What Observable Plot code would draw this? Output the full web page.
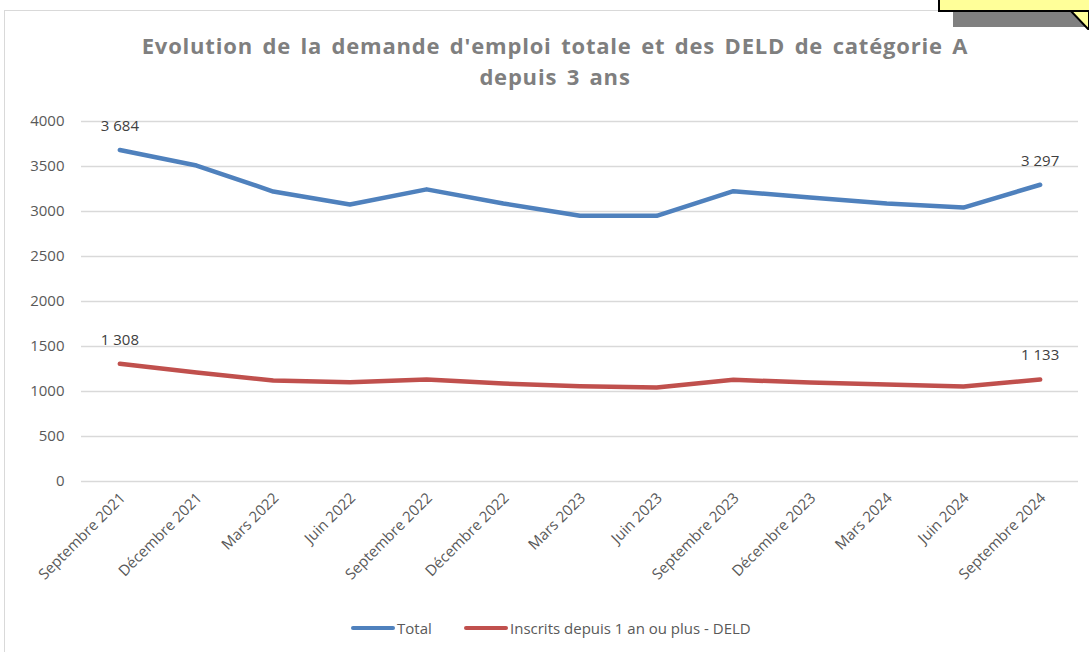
<!DOCTYPE html>
<html>
<head>
<meta charset="utf-8">
<script src="https://cdn.jsdelivr.net/npm/d3@7"></script>
<script src="https://cdn.jsdelivr.net/npm/@observablehq/plot@0.6"></script>
<style>
  body { margin: 0; background: #fff; }
  #wrap { position: relative; width: 1089px; height: 652px; overflow: hidden; font-family: "Open Sans", sans-serif; }
  #frame { position: absolute; left: 4px; top: 10px; width: 1200px; height: 800px; border: 1px solid #d9d9d9; }
  #chart { position: absolute; left: 0; top: 0; }
  #title { position: absolute; left: 0; width: 1110px; top: 30px; text-align: center; font-weight: bold; font-size: 22px; letter-spacing: 0.8px; word-spacing: 3px; line-height: 31px; color: #7f7f7f; }
  #legend { position: absolute; top: 617px; left: 0; width: 1089px; height: 22px; font-size: 15px; color: #595959; }
  .lg { position: absolute; top: 0; display: flex; align-items: center; height: 22px; }
  .sw { display: inline-block; width: 44px; height: 4px; border-radius: 2px; margin-right: 2px; }
  #callout { position: absolute; left: 938px; top: -4px; width: 160px; height: 12px; background: #ffff99; border: 2px solid #000; }
  #shadow { position: absolute; left: 953px; top: 10px; width: 140px; height: 17px; background: #808080; }
</style>
</head>
<body>
<div id="wrap">
  <div id="frame"></div>
  <div id="shadow"></div>
  <div id="chart"></div>
  <div id="title">Evolution de la demande d'emploi totale et des DELD de catégorie A<br>depuis 3 ans</div>
  <div id="legend">
    <div class="lg" style="left:351px"><span class="sw" style="background:#4F81BD"></span>Total</div>
    <div class="lg" style="left:464px"><span class="sw" style="background:#C0504D"></span>Inscrits depuis 1 an ou plus - DELD</div>
  </div>
  <svg id="pointer" style="position:absolute;left:1060px;top:0" width="29" height="30">
    <polygon points="8,8 29,8 29,30" fill="#ffff99" stroke="#000" stroke-width="2"/>
  </svg>
  <div id="callout"></div>
</div>
<script>
const periods = ["Septembre 2021","Décembre 2021","Mars 2022","Juin 2022","Septembre 2022","Décembre 2022","Mars 2023","Juin 2023","Septembre 2023","Décembre 2023","Mars 2024","Juin 2024","Septembre 2024"];
const totalValues = [3684, 3511, 3222, 3078, 3246, 3089, 2952, 2952, 3226, 3156, 3089, 3044, 3297];
const deldValues  = [1308, 1211, 1122, 1103, 1133, 1089, 1059, 1044, 1130, 1100, 1078, 1056, 1133];
const seriesNames = ["Total", "Inscrits depuis 1 an ou plus - DELD"];
const seriesColors = ["#4F81BD", "#C0504D"];
const yTicks = [0, 500, 1000, 1500, 2000, 2500, 3000, 3500, 4000];

const rows = [];
periods.forEach((p, i) => {
  rows.push({period: p, series: seriesNames[0], value: totalValues[i], idx: i});
  rows.push({period: p, series: seriesNames[1], value: deldValues[i], idx: i});
});
const last = periods.length - 1;
const labelRows = rows.filter(d => d.idx === 0 || d.idx === last);
const fmt = v => d3.format(",")(v).replace(/,/g, "\u00a0");

const chart = Plot.plot({
  width: 1089,
  height: 652,
  marginLeft: 81,
  marginRight: 11,
  marginTop: 121,
  marginBottom: 171,
  style: {fontFamily: "Open Sans, sans-serif", fontSize: "15px", color: "#595959", background: "transparent", overflow: "visible"},
  x: {type: "point", domain: periods, padding: 0.5, round: false, label: null},
  y: {domain: [0, 4000], label: null},
  color: {domain: seriesNames, range: seriesColors},
  marks: [
    Plot.ruleY(yTicks, {stroke: "#d9d9d9", strokeWidth: 1.5}),
    Plot.axisY({ticks: yTicks, tickSize: 0, tickPadding: 17, tickFormat: d => String(d), fill: "#595959", fontSize: 15}),
    Plot.axisX({tickSize: 0, tickRotate: -45, tickPadding: 8, dy: 6, dx: 3, fill: "#595959", fontSize: 15}),
    Plot.line(rows, {x: "period", y: "value", z: "series", stroke: "series", strokeWidth: 4.5, strokeLinecap: "round", strokeLinejoin: "round"}),
    Plot.text(labelRows, {x: "period", y: "value", text: d => fmt(d.value), dy: -24, fill: "#404040", fontSize: 15})
  ]
});
document.getElementById("chart").appendChild(chart);
</script>
</body>
</html>
